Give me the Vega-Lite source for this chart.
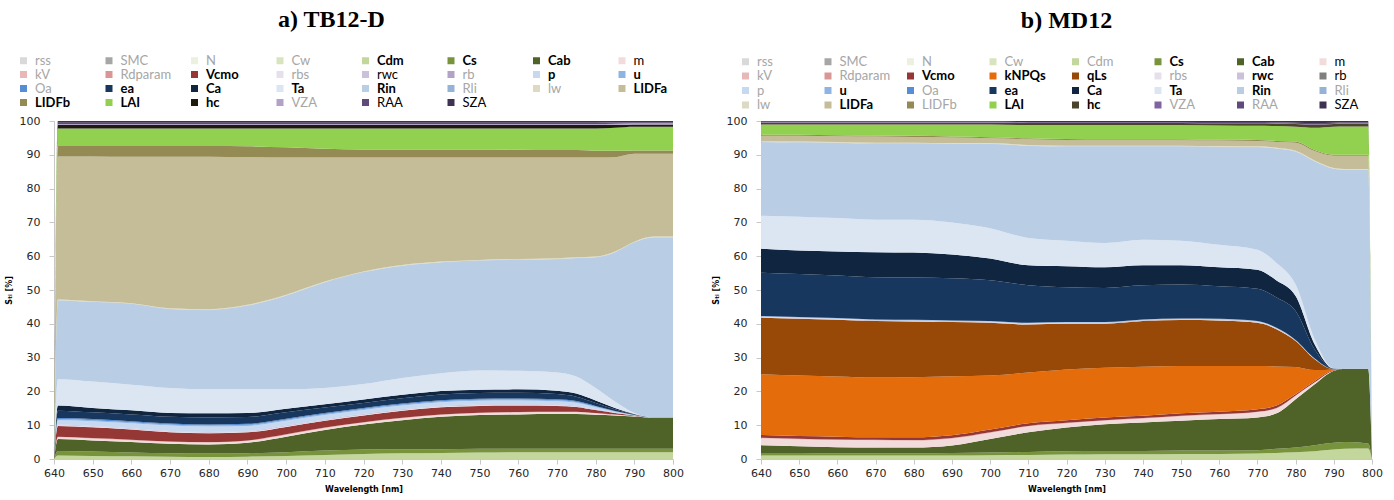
{
  "$schema": "https://vega.github.io/schema/vega-lite/v6.json",
  "background": "white",
  "padding": {"left": 5, "top": 8, "right": 5, "bottom": 5},
  "bounds": "flush",
  "spacing": 88,
  "config": {
    "view": {"stroke": null},
    "axis": {
      "grid": false,
      "domainColor": "#c8c8c8",
      "tickColor": "#c8c8c8",
      "tickSize": 5,
      "labelFont": "DejaVu Sans",
      "labelFontSize": 11,
      "labelColor": "#262626",
      "titleFont": "DejaVu Sans",
      "titleFontSize": 8,
      "titleFontWeight": "bold",
      "titleColor": "#000000"
    },
    "title": {"font": "Liberation Serif", "fontSize": 24, "fontWeight": "bold", "color": "#000000"}
  },
  "datasets": {
    "orderA": [
      {"param": "rss", "idx": 1}, {"param": "SMC", "idx": 2}, {"param": "N", "idx": 3}, {"param": "Cw", "idx": 4},
      {"param": "Cdm", "idx": 5}, {"param": "Cs", "idx": 6}, {"param": "Cab", "idx": 7}, {"param": "m", "idx": 8},
      {"param": "kV", "idx": 9}, {"param": "Rdparam", "idx": 10}, {"param": "Vcmo", "idx": 11}, {"param": "rbs", "idx": 12},
      {"param": "rwc", "idx": 13}, {"param": "rb", "idx": 14}, {"param": "p", "idx": 15}, {"param": "u", "idx": 16},
      {"param": "Oa", "idx": 17}, {"param": "ea", "idx": 18}, {"param": "Ca", "idx": 19}, {"param": "Ta", "idx": 20},
      {"param": "Rin", "idx": 21}, {"param": "Rli", "idx": 22}, {"param": "lw", "idx": 23}, {"param": "LIDFa", "idx": 24},
      {"param": "LIDFb", "idx": 25}, {"param": "LAI", "idx": 26}, {"param": "hc", "idx": 27}, {"param": "VZA", "idx": 28},
      {"param": "RAA", "idx": 29}, {"param": "SZA", "idx": 30}
    ],
    "orderB": [
      {"param": "rss", "idx": 1}, {"param": "SMC", "idx": 2}, {"param": "N", "idx": 3}, {"param": "Cw", "idx": 4},
      {"param": "Cdm", "idx": 5}, {"param": "Cs", "idx": 6}, {"param": "Cab", "idx": 7}, {"param": "m", "idx": 8},
      {"param": "kV", "idx": 9}, {"param": "Rdparam", "idx": 10}, {"param": "Vcmo", "idx": 11}, {"param": "kNPQs", "idx": 12},
      {"param": "qLs", "idx": 13}, {"param": "rbs", "idx": 14}, {"param": "rwc", "idx": 15}, {"param": "rb", "idx": 16},
      {"param": "p", "idx": 17}, {"param": "u", "idx": 18}, {"param": "Oa", "idx": 19}, {"param": "ea", "idx": 20},
      {"param": "Ca", "idx": 21}, {"param": "Ta", "idx": 22}, {"param": "Rin", "idx": 23}, {"param": "Rli", "idx": 24},
      {"param": "lw", "idx": 25}, {"param": "LIDFa", "idx": 26}, {"param": "LIDFb", "idx": 27}, {"param": "LAI", "idx": 28},
      {"param": "hc", "idx": 29}, {"param": "VZA", "idx": 30}, {"param": "RAA", "idx": 31}, {"param": "SZA", "idx": 32}
    ],
    "tb12d": [
      {"wl":640,"rss":0,"SMC":0,"N":0,"Cw":0,"Cdm":0,"Cs":0,"Cab":0,"m":0,"kV":0,"Rdparam":0,"Vcmo":0,"rbs":0,"rwc":0,"rb":0,"p":0,"u":0,"Oa":0,"ea":0,"Ca":0,"Ta":0,"Rin":0,"Rli":0,"lw":0,"LIDFa":0,"LIDFb":0,"LAI":0,"hc":0,"VZA":0,"RAA":0,"SZA":0},
      {"wl":641,"rss":0,"SMC":0,"N":0,"Cw":0,"Cdm":1.0,"Cs":1.4,"Cab":3.5,"m":0.5,"kV":0.1,"Rdparam":0.1,"Vcmo":3.2,"rbs":0.2,"rwc":0.1,"rb":0.1,"p":1.3,"u":0.3,"Oa":0.3,"ea":2.2,"Ca":1.5,"Ta":7.8,"Rin":23.3,"Rli":0.1,"lw":0.2,"LIDFa":42.3,"LIDFb":3.1,"LAI":5.2,"hc":1.0,"VZA":0.3,"RAA":0.4,"SZA":0.5},
      {"wl":650,"rss":0,"SMC":0,"N":0,"Cw":0,"Cdm":0.9,"Cs":1.3,"Cab":3.3,"m":0.5,"kV":0.1,"Rdparam":0.1,"Vcmo":3.2,"rbs":0.2,"rwc":0.1,"rb":0.1,"p":1.4,"u":0.3,"Oa":0.3,"ea":2.0,"Ca":1.3,"Ta":7.8,"Rin":23.5,"Rli":0.1,"lw":0.2,"LIDFa":42.8,"LIDFb":3.1,"LAI":5.2,"hc":1.0,"VZA":0.3,"RAA":0.4,"SZA":0.5},
      {"wl":660,"rss":0,"SMC":0,"N":0,"Cw":0,"Cdm":0.8,"Cs":1.1,"Cab":3.1,"m":0.5,"kV":0.1,"Rdparam":0.1,"Vcmo":3.0,"rbs":0.2,"rwc":0.1,"rb":0.1,"p":1.5,"u":0.3,"Oa":0.3,"ea":2.0,"Ca":1.2,"Ta":7.6,"Rin":23.8,"Rli":0.1,"lw":0.2,"LIDFa":43.3,"LIDFb":3.2,"LAI":5.2,"hc":1.0,"VZA":0.3,"RAA":0.4,"SZA":0.5},
      {"wl":670,"rss":0,"SMC":0,"N":0,"Cw":0,"Cdm":0.7,"Cs":1.0,"Cab":2.8,"m":0.5,"kV":0.1,"Rdparam":0.1,"Vcmo":2.7,"rbs":0.2,"rwc":0.1,"rb":0.1,"p":1.6,"u":0.3,"Oa":0.3,"ea":2.0,"Ca":1.1,"Ta":7.4,"Rin":23.3,"Rli":0.1,"lw":0.2,"LIDFa":44.8,"LIDFb":3.2,"LAI":5.2,"hc":1.0,"VZA":0.3,"RAA":0.4,"SZA":0.5},
      {"wl":680,"rss":0,"SMC":0,"N":0,"Cw":0,"Cdm":0.6,"Cs":1.0,"Cab":2.7,"m":0.5,"kV":0.1,"Rdparam":0.1,"Vcmo":2.6,"rbs":0.2,"rwc":0.1,"rb":0.1,"p":1.6,"u":0.3,"Oa":0.3,"ea":2.1,"Ca":1.2,"Ta":7.1,"Rin":23.4,"Rli":0.1,"lw":0.2,"LIDFa":45.1,"LIDFb":3.2,"LAI":5.2,"hc":1.0,"VZA":0.3,"RAA":0.4,"SZA":0.5},
      {"wl":690,"rss":0,"SMC":0,"N":0,"Cw":0,"Cdm":0.7,"Cs":1.0,"Cab":3.1,"m":0.5,"kV":0.1,"Rdparam":0.1,"Vcmo":2.4,"rbs":0.2,"rwc":0.1,"rb":0.1,"p":1.5,"u":0.3,"Oa":0.3,"ea":2.0,"Ca":1.2,"Ta":7.0,"Rin":24.7,"Rli":0.1,"lw":0.2,"LIDFa":43.7,"LIDFb":3.2,"LAI":5.3,"hc":1.0,"VZA":0.3,"RAA":0.4,"SZA":0.5},
      {"wl":700,"rss":0,"SMC":0,"N":0,"Cw":0,"Cdm":0.9,"Cs":1.1,"Cab":4.6,"m":0.5,"kV":0.1,"Rdparam":0.1,"Vcmo":2.2,"rbs":0.2,"rwc":0.1,"rb":0.1,"p":1.4,"u":0.3,"Oa":0.3,"ea":1.9,"Ca":1.1,"Ta":5.7,"Rin":27.7,"Rli":0.1,"lw":0.2,"LIDFa":40.6,"LIDFb":3.0,"LAI":5.6,"hc":1.0,"VZA":0.3,"RAA":0.4,"SZA":0.5},
      {"wl":710,"rss":0,"SMC":0,"N":0,"Cw":0,"Cdm":1.2,"Cs":1.3,"Cab":6.1,"m":0.5,"kV":0.1,"Rdparam":0.1,"Vcmo":2.0,"rbs":0.2,"rwc":0.1,"rb":0.1,"p":1.3,"u":0.3,"Oa":0.3,"ea":1.6,"Ca":1.0,"Ta":4.8,"Rin":31.2,"Rli":0.1,"lw":0.2,"LIDFa":36.7,"LIDFb":2.6,"LAI":6.0,"hc":1.0,"VZA":0.3,"RAA":0.4,"SZA":0.5},
      {"wl":720,"rss":0,"SMC":0,"N":0,"Cw":0,"Cdm":1.5,"Cs":1.3,"Cab":7.4,"m":0.5,"kV":0.1,"Rdparam":0.1,"Vcmo":2.0,"rbs":0.2,"rwc":0.1,"rb":0.1,"p":1.2,"u":0.3,"Oa":0.3,"ea":1.5,"Ca":1.0,"Ta":4.6,"Rin":33.0,"Rli":0.1,"lw":0.2,"LIDFa":33.7,"LIDFb":2.4,"LAI":6.2,"hc":1.0,"VZA":0.3,"RAA":0.4,"SZA":0.5},
      {"wl":730,"rss":0,"SMC":0,"N":0,"Cw":0,"Cdm":1.7,"Cs":1.2,"Cab":8.6,"m":0.5,"kV":0.1,"Rdparam":0.1,"Vcmo":2.1,"rbs":0.2,"rwc":0.1,"rb":0.1,"p":1.1,"u":0.3,"Oa":0.3,"ea":1.6,"Ca":1.0,"Ta":5.0,"Rin":33.1,"Rli":0.1,"lw":0.2,"LIDFa":31.8,"LIDFb":2.4,"LAI":6.2,"hc":1.0,"VZA":0.3,"RAA":0.4,"SZA":0.5},
      {"wl":740,"rss":0,"SMC":0,"N":0,"Cw":0,"Cdm":1.8,"Cs":1.1,"Cab":9.6,"m":0.5,"kV":0.1,"Rdparam":0.1,"Vcmo":2.1,"rbs":0.2,"rwc":0.1,"rb":0.1,"p":1.1,"u":0.3,"Oa":0.3,"ea":1.7,"Ca":1.0,"Ta":5.3,"Rin":32.7,"Rli":0.1,"lw":0.2,"LIDFa":30.8,"LIDFb":2.4,"LAI":6.2,"hc":1.0,"VZA":0.3,"RAA":0.4,"SZA":0.5},
      {"wl":750,"rss":0,"SMC":0,"N":0,"Cw":0,"Cdm":1.9,"Cs":1.1,"Cab":10.0,"m":0.5,"kV":0.1,"Rdparam":0.1,"Vcmo":2.0,"rbs":0.2,"rwc":0.1,"rb":0.1,"p":1.1,"u":0.3,"Oa":0.3,"ea":1.7,"Ca":1.0,"Ta":5.7,"Rin":32.4,"Rli":0.1,"lw":0.2,"LIDFa":30.3,"LIDFb":2.4,"LAI":6.2,"hc":1.0,"VZA":0.3,"RAA":0.4,"SZA":0.5},
      {"wl":760,"rss":0,"SMC":0,"N":0,"Cw":0,"Cdm":2.0,"Cs":1.0,"Cab":10.2,"m":0.5,"kV":0.1,"Rdparam":0.1,"Vcmo":1.9,"rbs":0.2,"rwc":0.1,"rb":0.1,"p":1.1,"u":0.3,"Oa":0.3,"ea":1.7,"Ca":1.0,"Ta":5.5,"Rin":32.8,"Rli":0.1,"lw":0.2,"LIDFa":30.0,"LIDFb":2.3,"LAI":6.3,"hc":1.0,"VZA":0.3,"RAA":0.4,"SZA":0.5},
      {"wl":770,"rss":0,"SMC":0,"N":0,"Cw":0,"Cdm":2.0,"Cs":1.0,"Cab":10.3,"m":0.5,"kV":0.1,"Rdparam":0.1,"Vcmo":1.7,"rbs":0.2,"rwc":0.1,"rb":0.1,"p":1.0,"u":0.3,"Oa":0.3,"ea":1.5,"Ca":1.0,"Ta":5.4,"Rin":33.5,"Rli":0.1,"lw":0.2,"LIDFa":29.8,"LIDFb":2.2,"LAI":6.4,"hc":1.0,"VZA":0.3,"RAA":0.4,"SZA":0.5},
      {"wl":775,"rss":0,"SMC":0,"N":0,"Cw":0,"Cdm":2.0,"Cs":1.0,"Cab":10.3,"m":0.5,"kV":0.1,"Rdparam":0.1,"Vcmo":1.4,"rbs":0.15,"rwc":0.1,"rb":0.1,"p":0.9,"u":0.25,"Oa":0.25,"ea":1.3,"Ca":0.9,"Ta":5.05,"Rin":35.0,"Rli":0.1,"lw":0.2,"LIDFa":29.5,"LIDFb":2.2,"LAI":6.4,"hc":1.0,"VZA":0.3,"RAA":0.4,"SZA":0.5},
      {"wl":780,"rss":0,"SMC":0,"N":0,"Cw":0,"Cdm":2.0,"Cs":1.0,"Cab":10.1,"m":0.4,"kV":0.05,"Rdparam":0.05,"Vcmo":0.9,"rbs":0.1,"rwc":0.05,"rb":0.05,"p":0.6,"u":0.2,"Oa":0.2,"ea":0.9,"Ca":0.7,"Ta":3.7,"Rin":38.6,"Rli":0.1,"lw":0.2,"LIDFa":29.3,"LIDFb":2.0,"LAI":6.6,"hc":1.0,"VZA":0.3,"RAA":0.4,"SZA":0.5},
      {"wl":785,"rss":0,"SMC":0,"N":0,"Cw":0,"Cdm":2.0,"Cs":1.0,"Cab":9.9,"m":0.25,"kV":0,"Rdparam":0,"Vcmo":0.45,"rbs":0.05,"rwc":0.05,"rb":0,"p":0.3,"u":0.1,"Oa":0.1,"ea":0.5,"Ca":0.4,"Ta":1.9,"Rin":44.1,"Rli":0.1,"lw":0.2,"LIDFa":27.9,"LIDFb":1.9,"LAI":6.8,"hc":0.9,"VZA":0.3,"RAA":0.4,"SZA":0.4},
      {"wl":790,"rss":0,"SMC":0,"N":0,"Cw":0,"Cdm":2.0,"Cs":1.0,"Cab":9.6,"m":0.1,"kV":0,"Rdparam":0,"Vcmo":0.15,"rbs":0,"rwc":0.05,"rb":0,"p":0.1,"u":0.05,"Oa":0,"ea":0.15,"Ca":0.15,"Ta":0.25,"Rin":50.4,"Rli":0.1,"lw":0.2,"LIDFa":26.0,"LIDFb":1.0,"LAI":7.0,"hc":0.7,"VZA":0.3,"RAA":0.3,"SZA":0.4},
      {"wl":795,"rss":0,"SMC":0,"N":0,"Cw":0,"Cdm":2.0,"Cs":1.0,"Cab":9.3,"m":0,"kV":0,"Rdparam":0,"Vcmo":0,"rbs":0,"rwc":0,"rb":0,"p":0,"u":0,"Oa":0,"ea":0,"Ca":0,"Ta":0,"Rin":53.2,"Rli":0.1,"lw":0.2,"LIDFa":24.5,"LIDFb":1.0,"LAI":7.0,"hc":0.7,"VZA":0.3,"RAA":0.3,"SZA":0.4},
      {"wl":800,"rss":0,"SMC":0,"N":0,"Cw":0,"Cdm":2.0,"Cs":1.0,"Cab":9.3,"m":0,"kV":0,"Rdparam":0,"Vcmo":0,"rbs":0,"rwc":0,"rb":0,"p":0,"u":0,"Oa":0,"ea":0,"Ca":0,"Ta":0,"Rin":53.2,"Rli":0.1,"lw":0.2,"LIDFa":24.5,"LIDFb":1.0,"LAI":7.0,"hc":0.7,"VZA":0.3,"RAA":0.3,"SZA":0.4}
    ],
    "md12": [
      {"wl":640,"rss":0,"SMC":0,"N":0,"Cw":0,"Cdm":1.0,"Cs":0.8,"Cab":2.3,"m":2.0,"kV":0.1,"Rdparam":0.1,"Vcmo":0.8,"kNPQs":18.0,"qLs":16.7,"rbs":0.1,"rwc":0.1,"rb":0.05,"p":0.1,"u":0.1,"Oa":0.05,"ea":12.8,"Ca":7.1,"Ta":9.8,"Rin":21.7,"Rli":0.1,"lw":0.2,"LIDFa":1.6,"LIDFb":0.3,"LAI":3.1,"hc":0.5,"VZA":0.1,"RAA":0.2,"SZA":0.2},
      {"wl":650,"rss":0,"SMC":0,"N":0,"Cw":0,"Cdm":1.0,"Cs":0.8,"Cab":2.0,"m":2.0,"kV":0.1,"Rdparam":0.1,"Vcmo":0.8,"kNPQs":17.9,"qLs":16.8,"rbs":0.1,"rwc":0.1,"rb":0.05,"p":0.1,"u":0.1,"Oa":0.05,"ea":12.7,"Ca":7.0,"Ta":10.0,"Rin":21.9,"Rli":0.1,"lw":0.2,"LIDFa":1.7,"LIDFb":0.3,"LAI":3.1,"hc":0.5,"VZA":0.1,"RAA":0.2,"SZA":0.2},
      {"wl":660,"rss":0,"SMC":0,"N":0,"Cw":0,"Cdm":1.0,"Cs":0.7,"Cab":1.8,"m":2.1,"kV":0.1,"Rdparam":0.1,"Vcmo":0.8,"kNPQs":17.8,"qLs":16.8,"rbs":0.1,"rwc":0.1,"rb":0.05,"p":0.1,"u":0.1,"Oa":0.05,"ea":12.6,"Ca":7.1,"Ta":9.9,"Rin":22.2,"Rli":0.1,"lw":0.2,"LIDFa":1.7,"LIDFb":0.3,"LAI":3.2,"hc":0.5,"VZA":0.1,"RAA":0.2,"SZA":0.2},
      {"wl":670,"rss":0,"SMC":0,"N":0,"Cw":0,"Cdm":1.0,"Cs":0.7,"Cab":1.7,"m":2.1,"kV":0.1,"Rdparam":0.1,"Vcmo":0.7,"kNPQs":17.7,"qLs":16.7,"rbs":0.1,"rwc":0.1,"rb":0.05,"p":0.1,"u":0.1,"Oa":0.05,"ea":12.5,"Ca":7.4,"Ta":9.6,"Rin":22.5,"Rli":0.1,"lw":0.2,"LIDFa":1.8,"LIDFb":0.3,"LAI":3.3,"hc":0.5,"VZA":0.1,"RAA":0.2,"SZA":0.2},
      {"wl":680,"rss":0,"SMC":0,"N":0,"Cw":0,"Cdm":1.0,"Cs":0.7,"Cab":1.7,"m":2.0,"kV":0.1,"Rdparam":0.1,"Vcmo":0.8,"kNPQs":17.8,"qLs":16.5,"rbs":0.1,"rwc":0.1,"rb":0.05,"p":0.1,"u":0.1,"Oa":0.05,"ea":12.5,"Ca":7.4,"Ta":9.7,"Rin":22.5,"Rli":0.1,"lw":0.2,"LIDFa":1.7,"LIDFb":0.3,"LAI":3.4,"hc":0.5,"VZA":0.1,"RAA":0.2,"SZA":0.2},
      {"wl":690,"rss":0,"SMC":0,"N":0,"Cw":0,"Cdm":1.0,"Cs":0.8,"Cab":2.2,"m":2.0,"kV":0.1,"Rdparam":0.1,"Vcmo":0.8,"kNPQs":17.5,"qLs":16.0,"rbs":0.1,"rwc":0.1,"rb":0.05,"p":0.1,"u":0.1,"Oa":0.05,"ea":12.5,"Ca":7.0,"Ta":9.5,"Rin":23.2,"Rli":0.1,"lw":0.2,"LIDFa":1.6,"LIDFb":0.3,"LAI":3.6,"hc":0.5,"VZA":0.1,"RAA":0.2,"SZA":0.2},
      {"wl":700,"rss":0,"SMC":0,"N":0,"Cw":0,"Cdm":1.1,"Cs":0.8,"Cab":4.0,"m":1.8,"kV":0.1,"Rdparam":0.1,"Vcmo":0.8,"kNPQs":16.0,"qLs":15.6,"rbs":0.1,"rwc":0.1,"rb":0.05,"p":0.1,"u":0.1,"Oa":0.05,"ea":12.1,"Ca":6.4,"Ta":9.0,"Rin":24.9,"Rli":0.1,"lw":0.2,"LIDFa":1.4,"LIDFb":0.3,"LAI":3.8,"hc":0.5,"VZA":0.1,"RAA":0.2,"SZA":0.2},
      {"wl":710,"rss":0,"SMC":0,"N":0,"Cw":0,"Cdm":1.2,"Cs":0.9,"Cab":5.8,"m":1.7,"kV":0.1,"Rdparam":0.1,"Vcmo":0.8,"kNPQs":15.0,"qLs":14.2,"rbs":0.1,"rwc":0.1,"rb":0.05,"p":0.1,"u":0.1,"Oa":0.05,"ea":11.1,"Ca":5.9,"Ta":8.1,"Rin":27.2,"Rli":0.1,"lw":0.2,"LIDFa":1.7,"LIDFb":0.3,"LAI":3.9,"hc":0.6,"VZA":0.1,"RAA":0.2,"SZA":0.3},
      {"wl":720,"rss":0,"SMC":0,"N":0,"Cw":0,"Cdm":1.3,"Cs":1.0,"Cab":7.0,"m":1.2,"kV":0.1,"Rdparam":0.1,"Vcmo":0.8,"kNPQs":15.0,"qLs":13.5,"rbs":0.1,"rwc":0.1,"rb":0.05,"p":0.1,"u":0.1,"Oa":0.05,"ea":10.3,"Ca":6.2,"Ta":7.6,"Rin":27.8,"Rli":0.1,"lw":0.2,"LIDFa":1.7,"LIDFb":0.3,"LAI":4.1,"hc":0.6,"VZA":0.1,"RAA":0.2,"SZA":0.3},
      {"wl":730,"rss":0,"SMC":0,"N":0,"Cw":0,"Cdm":1.4,"Cs":1.0,"Cab":7.9,"m":1.0,"kV":0.1,"Rdparam":0.1,"Vcmo":0.8,"kNPQs":14.7,"qLs":13.0,"rbs":0.1,"rwc":0.1,"rb":0.05,"p":0.1,"u":0.1,"Oa":0.05,"ea":10.1,"Ca":6.1,"Ta":7.2,"Rin":28.5,"Rli":0.1,"lw":0.2,"LIDFa":1.6,"LIDFb":0.3,"LAI":4.2,"hc":0.6,"VZA":0.1,"RAA":0.2,"SZA":0.3},
      {"wl":740,"rss":0,"SMC":0,"N":0,"Cw":0,"Cdm":1.4,"Cs":1.0,"Cab":8.4,"m":1.1,"kV":0.1,"Rdparam":0.1,"Vcmo":0.7,"kNPQs":14.5,"qLs":13.5,"rbs":0.1,"rwc":0.1,"rb":0.05,"p":0.1,"u":0.1,"Oa":0.05,"ea":10.1,"Ca":5.9,"Ta":7.6,"Rin":27.5,"Rli":0.1,"lw":0.2,"LIDFa":1.6,"LIDFb":0.3,"LAI":4.2,"hc":0.6,"VZA":0.1,"RAA":0.2,"SZA":0.3},
      {"wl":750,"rss":0,"SMC":0,"N":0,"Cw":0,"Cdm":1.5,"Cs":1.0,"Cab":8.8,"m":1.3,"kV":0.1,"Rdparam":0.1,"Vcmo":0.7,"kNPQs":14.0,"qLs":13.6,"rbs":0.1,"rwc":0.1,"rb":0.05,"p":0.1,"u":0.1,"Oa":0.05,"ea":10.0,"Ca":5.7,"Ta":7.3,"Rin":27.8,"Rli":0.1,"lw":0.2,"LIDFa":1.6,"LIDFb":0.3,"LAI":4.2,"hc":0.6,"VZA":0.1,"RAA":0.2,"SZA":0.3},
      {"wl":760,"rss":0,"SMC":0,"N":0,"Cw":0,"Cdm":1.5,"Cs":1.0,"Cab":9.3,"m":1.3,"kV":0.1,"Rdparam":0.1,"Vcmo":0.7,"kNPQs":13.5,"qLs":13.5,"rbs":0.1,"rwc":0.1,"rb":0.05,"p":0.1,"u":0.1,"Oa":0.05,"ea":9.6,"Ca":5.6,"Ta":6.7,"Rin":28.9,"Rli":0.1,"lw":0.2,"LIDFa":1.6,"LIDFb":0.3,"LAI":4.2,"hc":0.6,"VZA":0.1,"RAA":0.3,"SZA":0.3},
      {"wl":770,"rss":0,"SMC":0,"N":0,"Cw":0,"Cdm":1.6,"Cs":1.0,"Cab":9.7,"m":1.5,"kV":0.1,"Rdparam":0.1,"Vcmo":0.7,"kNPQs":12.8,"qLs":12.8,"rbs":0.1,"rwc":0.1,"rb":0.05,"p":0.1,"u":0.1,"Oa":0.05,"ea":9.6,"Ca":5.6,"Ta":5.9,"Rin":30.3,"Rli":0.1,"lw":0.2,"LIDFa":1.6,"LIDFb":0.3,"LAI":4.2,"hc":0.7,"VZA":0.1,"RAA":0.3,"SZA":0.3},
      {"wl":775,"rss":0,"SMC":0,"N":0,"Cw":0,"Cdm":1.8,"Cs":1.2,"Cab":10.5,"m":1.4,"kV":0.1,"Rdparam":0.1,"Vcmo":0.7,"kNPQs":11.6,"qLs":11.0,"rbs":0.1,"rwc":0.1,"rb":0.05,"p":0.1,"u":0.05,"Oa":0,"ea":9.0,"Ca":5.0,"Ta":5.2,"Rin":33.8,"Rli":0.1,"lw":0.2,"LIDFa":1.7,"LIDFb":0.3,"LAI":4.4,"hc":0.7,"VZA":0.1,"RAA":0.3,"SZA":0.4},
      {"wl":780,"rss":0,"SMC":0,"N":0,"Cw":0,"Cdm":2.0,"Cs":1.4,"Cab":14.3,"m":1.0,"kV":0.05,"Rdparam":0.05,"Vcmo":0.4,"kNPQs":8.0,"qLs":7.7,"rbs":0.05,"rwc":0.1,"rb":0.05,"p":0.05,"u":0.05,"Oa":0,"ea":8.6,"Ca":4.4,"Ta":3.4,"Rin":39.3,"Rli":0.1,"lw":0.2,"LIDFa":2.4,"LIDFb":0.3,"LAI":4.4,"hc":0.8,"VZA":0.1,"RAA":0.3,"SZA":0.5},
      {"wl":785,"rss":0,"SMC":0,"N":0,"Cw":0,"Cdm":2.3,"Cs":1.8,"Cab":18.0,"m":0.6,"kV":0,"Rdparam":0,"Vcmo":0.4,"kNPQs":3.2,"qLs":3.2,"rbs":0,"rwc":0.1,"rb":0,"p":0.05,"u":0.05,"Oa":0,"ea":2.7,"Ca":1.5,"Ta":1.5,"Rin":52.6,"Rli":0.1,"lw":0.2,"LIDFa":2.8,"LIDFb":0.3,"LAI":6.6,"hc":0.9,"VZA":0.1,"RAA":0.4,"SZA":0.6},
      {"wl":790,"rss":0,"SMC":0,"N":0,"Cw":0,"Cdm":2.8,"Cs":2.0,"Cab":21.3,"m":0.1,"kV":0,"Rdparam":0,"Vcmo":0.1,"kNPQs":0.2,"qLs":0.1,"rbs":0,"rwc":0,"rb":0,"p":0,"u":0,"Oa":0,"ea":0.1,"Ca":0.05,"Ta":0.05,"Rin":59.0,"Rli":0.1,"lw":0.2,"LIDFa":3.6,"LIDFb":0.3,"LAI":8.3,"hc":0.8,"VZA":0.1,"RAA":0.3,"SZA":0.5},
      {"wl":793,"rss":0,"SMC":0,"N":0,"Cw":0,"Cdm":3.0,"Cs":2.0,"Cab":21.7,"m":0,"kV":0,"Rdparam":0,"Vcmo":0,"kNPQs":0,"qLs":0,"rbs":0,"rwc":0,"rb":0,"p":0,"u":0,"Oa":0,"ea":0,"Ca":0,"Ta":0,"Rin":58.8,"Rli":0.1,"lw":0.2,"LIDFa":3.9,"LIDFb":0.3,"LAI":8.4,"hc":0.8,"VZA":0.1,"RAA":0.3,"SZA":0.4},
      {"wl":799,"rss":0,"SMC":0,"N":0,"Cw":0,"Cdm":3.1,"Cs":1.5,"Cab":22.1,"m":0,"kV":0,"Rdparam":0,"Vcmo":0,"kNPQs":0,"qLs":0,"rbs":0,"rwc":0,"rb":0,"p":0,"u":0,"Oa":0,"ea":0,"Ca":0,"Ta":0,"Rin":58.8,"Rli":0.1,"lw":0.2,"LIDFa":3.9,"LIDFb":0.3,"LAI":8.4,"hc":0.8,"VZA":0.1,"RAA":0.3,"SZA":0.4},
      {"wl":800,"rss":0,"SMC":0,"N":0,"Cw":0,"Cdm":0,"Cs":0,"Cab":0,"m":0,"kV":0,"Rdparam":0,"Vcmo":0,"kNPQs":0,"qLs":0,"rbs":0,"rwc":0,"rb":0,"p":0,"u":0,"Oa":0,"ea":0,"Ca":0,"Ta":0,"Rin":0,"Rli":0,"lw":0,"LIDFa":0,"LIDFb":0,"LAI":0,"hc":0,"VZA":0,"RAA":0,"SZA":0}
    ]
  },
  "hconcat": [
    {
      "width": 619,
      "height": 338,
      "title": {"text": "a) TB12-D", "anchor": "middle", "frame": "group", "dx": -32, "offset": 22},
      "data": {"name": "tb12d"},
      "transform": [
        {"fold": ["rss","SMC","N","Cw","Cdm","Cs","Cab","m","kV","Rdparam","Vcmo","rbs","rwc","rb","p","u","Oa","ea","Ca","Ta","Rin","Rli","lw","LIDFa","LIDFb","LAI","hc","VZA","RAA","SZA"], "as": ["param", "value"]},
        {"lookup": "param", "from": {"data": {"name": "orderA"}, "key": "param", "fields": ["idx"]}}
      ],
      "mark": {"type": "area", "interpolate": "monotone"},
      "encoding": {
        "x": {
          "field": "wl", "type": "quantitative",
          "scale": {"domain": [640, 800], "nice": false, "zero": false},
          "axis": {"title": "Wavelength [nm]", "values": [640,650,660,670,680,690,700,710,720,730,740,750,760,770,780,790,800], "labelPadding": 3, "titlePadding": 7, "labelFlush": false}
        },
        "y": {
          "field": "value", "type": "quantitative", "stack": "zero",
          "scale": {"domain": [0, 100], "nice": false},
          "axis": {"title": "Sₜᵢ [%]", "values": [0,10,20,30,40,50,60,70,80,90,100], "labelPadding": 9, "titlePadding": 6}
        },
        "color": {
          "field": "param", "type": "nominal",
          "scale": {
            "domain": ["rss","SMC","N","Cw","Cdm","Cs","Cab","m","kV","Rdparam","Vcmo","rbs","rwc","rb","p","u","Oa","ea","Ca","Ta","Rin","Rli","lw","LIDFa","LIDFb","LAI","hc","VZA","RAA","SZA"],
            "range": ["#d9d9d9","#a6a6a6","#ebf1de","#d7e4bd","#c3d69b","#77933c","#4f6228","#f2dcdb","#e6b9b8","#d99694","#953735","#e6e0ec","#ccc1da","#b3a2c7","#c6d9f1","#8eb4e3","#558ed5","#17375e","#10253f","#dce6f2","#b9cde5","#95b3d7","#ddd9c3","#c4bd97","#948a54","#92d050","#1d1b10","#b3a2c7","#604a7b","#3f3151"]
          },
          "legend": {
            "title": null, "orient": "none", "legendX": -37, "legendY": -67,
            "columns": 8, "direction": "horizontal", "gridAlign": "all", "symbolLimit": 40,
            "columnPadding": 16.5, "rowPadding": 0, "padding": 0,
            "symbolType": "square", "symbolSize": 49, "symbolStrokeWidth": 0,
            "labelFont": "Lato", "labelFontSize": 13, "labelOffset": 5, "labelLimit": 200,
            "encode": {
              "labels": {
                "update": {
                  "fontWeight": {"signal": "indexof(['Cdm','Cs','Cab','Vcmo','p','u','ea','Ca','Ta','Rin','LIDFa','LIDFb','LAI','hc'], datum.value) >= 0 ? 'bold' : 'normal'"},
                  "fill": {"signal": "indexof(['Cdm','Cs','Cab','Vcmo','p','u','ea','Ca','Ta','Rin','LIDFa','LIDFb','LAI','hc','m','rwc','RAA','SZA'], datum.value) >= 0 ? '#000000' : '#a6a6a6'"}
                }
              }
            }
          }
        },
        "order": {"field": "idx", "type": "quantitative", "sort": "ascending"}
      }
    },
    {
      "width": 611,
      "height": 338,
      "title": {"text": "b) MD12", "anchor": "middle", "frame": "group", "offset": 22},
      "data": {"name": "md12"},
      "transform": [
        {"fold": ["rss","SMC","N","Cw","Cdm","Cs","Cab","m","kV","Rdparam","Vcmo","kNPQs","qLs","rbs","rwc","rb","p","u","Oa","ea","Ca","Ta","Rin","Rli","lw","LIDFa","LIDFb","LAI","hc","VZA","RAA","SZA"], "as": ["param", "value"]},
        {"lookup": "param", "from": {"data": {"name": "orderB"}, "key": "param", "fields": ["idx"]}}
      ],
      "mark": {"type": "area", "interpolate": "monotone"},
      "encoding": {
        "x": {
          "field": "wl", "type": "quantitative",
          "scale": {"domain": [640, 800], "nice": false, "zero": false},
          "axis": {"title": "Wavelength [nm]", "values": [640,650,660,670,680,690,700,710,720,730,740,750,760,770,780,790,800], "labelPadding": 3, "titlePadding": 7, "labelFlush": false}
        },
        "y": {
          "field": "value", "type": "quantitative", "stack": "zero",
          "scale": {"domain": [0, 100], "nice": false},
          "axis": {"title": "Sₜᵢ [%]", "values": [0,10,20,30,40,50,60,70,80,90,100], "labelPadding": 9, "titlePadding": 6}
        },
        "color": {
          "field": "param", "type": "nominal",
          "scale": {
            "domain": ["rss","SMC","N","Cw","Cdm","Cs","Cab","m","kV","Rdparam","Vcmo","kNPQs","qLs","rbs","rwc","rb","p","u","Oa","ea","Ca","Ta","Rin","Rli","lw","LIDFa","LIDFb","LAI","hc","VZA","RAA","SZA"],
            "range": ["#d9d9d9","#a6a6a6","#ebf1de","#d7e4bd","#c3d69b","#77933c","#4f6228","#f2dcdb","#e6b9b8","#d99694","#953735","#e46c0a","#984807","#e6e0ec","#ccc1da","#7f7f7f","#c6d9f1","#8eb4e3","#558ed5","#17375e","#10253f","#dce6f2","#b9cde5","#95b3d7","#ddd9c3","#c4bd97","#948a54","#92d050","#4a452a","#8064a2","#604a7b","#3f3151"]
          },
          "legend": {
            "title": null, "orient": "none", "legendX": -22, "legendY": -66,
            "columns": 8, "direction": "horizontal", "gridAlign": "all", "symbolLimit": 40,
            "columnPadding": 13.5, "rowPadding": 0.5, "padding": 0,
            "symbolType": "square", "symbolSize": 49, "symbolStrokeWidth": 0,
            "labelFont": "Lato", "labelFontSize": 13, "labelOffset": 5, "labelLimit": 200,
            "encode": {
              "labels": {
                "update": {
                  "fontWeight": {"signal": "indexof(['Cs','Cab','Vcmo','kNPQs','qLs','rwc','u','ea','Ca','Ta','Rin','LIDFa','LAI','hc'], datum.value) >= 0 ? 'bold' : 'normal'"},
                  "fill": {"signal": "indexof(['Cs','Cab','Vcmo','kNPQs','qLs','rwc','u','ea','Ca','Ta','Rin','LIDFa','LAI','hc','m','rb','SZA'], datum.value) >= 0 ? '#000000' : '#a6a6a6'"}
                }
              }
            }
          }
        },
        "order": {"field": "idx", "type": "quantitative", "sort": "ascending"}
      }
    }
  ],
  "resolve": {"scale": {"color": "independent"}, "legend": {"color": "independent"}}
}
